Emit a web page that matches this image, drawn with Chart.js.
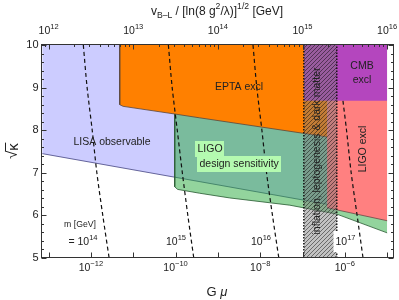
<!DOCTYPE html>
<html>
<head>
<meta charset="utf-8">
<script src="https://cdn.jsdelivr.net/npm/chart.js@4.4.0/dist/chart.umd.min.js"></script>
<style>
  html, body { margin: 0; padding: 0; background: #fff; }
  canvas { display: block; }
</style>
</head>
<body>
<canvas id="chart" width="399" height="300"></canvas>
<script>
// x = log10(G mu), y = sqrt(kappa)
const X_MIN = -13.18, X_MAX = -4.85;
const Y_MIN = 5, Y_MAX = 10.035;

// LISA observable: lower boundary
const lisaX = [-13.15, -5.0];
const lisaY = [7.45, 6.01];
// EPTA excl: left edge + lower boundary
const eptaX = [-11.32, -11.32, -11.24, -10.02, -9.43, -7.0, -6.42];
const eptaY = [10, 8.6, 8.56, 8.38, 8.29, 7.93, 7.84];
// LIGO design sensitivity: left edge + lower boundary
const ligoX = [-10.02, -10.02, -9.95, -9.43, -8.72, -7.3, -6.19, -5.0];
const ligoY = [10, 6.67, 6.61, 6.52, 6.41, 6.24, 6.03, 5.59];
// LIGO excl: lower boundary
const ligoExX = [-6.42, -6.19, -5.0];
const ligoExY = [6.18, 6.13, 5.875];
// CMB excl: lower boundary
const cmbX = [-6.97, -5.0];
const cmbY = [8.69, 8.69];
// inflation, leptogenesis & dark matter band
const bandX = [-6.97, -6.97, -6.19, -6.19];
const bandY = [10, 5, 5, 10];

// dashed lines of constant m [GeV]
const mExps = ['14', '15', '16', '17'];
const mLineY = [10, 9, 8, 7, 6, 5];
const mLineX = [
  [-12.18, -12.09, -11.97, -11.86, -11.72, -11.57],
  [-10.17, -10.08, -9.96, -9.84, -9.71, -9.57],
  [-8.17, -8.08, -7.96, -7.85, -7.71, -7.56],
  [-6.17, -6.08, -5.96, -5.85, -5.71, -5.57]
];

// axis ticks
const gmuTickExps = [-13, -12, -11, -10, -9, -8, -7, -6, -5];
const gmuLabelExps = [-12, -10, -8, -6];
const vTickExps = [12, 13, 14, 15, 16];
const yTicks = [5, 6, 7, 8, 9, 10];

const FONT = '"Liberation Sans", Arial, Helvetica, sans-serif';

function pts(xs, ys) {
  return xs.map((x, i) => ({ x: x, y: ys[i] }));
}

function hatchPattern() {
  const c = document.createElement('canvas');
  c.width = 4; c.height = 4;
  const g = c.getContext('2d');
  g.fillStyle = 'rgba(120,120,120,0.45)';
  g.fillRect(0, 0, 4, 4);
  g.strokeStyle = 'rgba(0,0,0,0.5)';
  g.lineWidth = 0.9;
  g.beginPath();
  g.moveTo(0, 4); g.lineTo(4, 0);
  g.moveTo(-1, 1); g.lineTo(1, -1);
  g.moveTo(3, 5); g.lineTo(5, 3);
  g.stroke();
  return g.createPattern(c, 'repeat');
}

// text with super/subscripts: parts = [[text, kind]], kind 1 sup, -1 sub
function rich(ctx, parts, x, y, size, align) {
  const fnt = k => (k ? size * 0.72 : size) + 'px ' + FONT;
  let w = 0;
  parts.forEach(([t, k]) => { ctx.font = fnt(k); w += ctx.measureText(t).width; });
  let cx = align === 'center' ? x - w / 2 : (align === 'right' ? x - w : x);
  ctx.textAlign = 'left';
  ctx.textBaseline = 'middle';
  parts.forEach(([t, k]) => {
    ctx.font = fnt(k);
    const dy = k === 1 ? -size * 0.42 : (k === -1 ? size * 0.3 : 0);
    ctx.fillText(t, cx, y + dy);
    cx += ctx.measureText(t).width;
  });
  return w;
}

function label(ctx, text, x, y, size, rot) {
  ctx.save();
  ctx.translate(x, y);
  if (rot) ctx.rotate(rot);
  ctx.font = size + 'px ' + FONT;
  ctx.textAlign = 'center';
  ctx.textBaseline = 'middle';
  ctx.fillText(text, 0, 0);
  ctx.restore();
}

const decor = {
  id: 'decor',
  afterDraw(chart) {
    const { ctx, chartArea: a, scales } = chart;
    const xs = scales.x, ys = scales.y, xt = scales.xTop;
    const L = Math.round(a.left) + 0.5, R = Math.round(a.right) - 0.5;
    const T = Math.round(a.top) + 0.5, B = Math.round(a.bottom) - 0.5;
    ctx.save();

    // region labels
    ctx.fillStyle = '#222';
    label(ctx, 'LISA observable', 112, 142, 10.5);
    label(ctx, 'EPTA excl', 239, 87, 10.5);
    ctx.fillStyle = '#b4fab0';
    ctx.fillRect(195, 141, 29, 16);
    ctx.fillRect(197, 156, 84, 16);
    ctx.fillStyle = '#222';
    ctx.font = '10.5px ' + FONT;
    ctx.textAlign = 'left'; ctx.textBaseline = 'middle';
    ctx.fillText('LIGO', 197.5, 149.5);
    ctx.fillText('design sensitivity', 199.5, 164.5);
    label(ctx, 'CMB', 362, 66.5, 10.5);
    label(ctx, 'excl', 362, 80, 10.5);
    label(ctx, 'LIGO excl', 363.5, 149, 10.5, -Math.PI / 2);
    label(ctx, 'inflation, leptogenesis & dark matter', 317, 151, 10.5, -Math.PI / 2);

    // m labels
    label(ctx, 'm [GeV]', 80, 225, 8.7);
    rich(ctx, [['= 10', 0], [mExps[0], 1]], 83, 242, 10.5, 'center');
    rich(ctx, [['10', 0], [mExps[1], 1]], 176, 242, 10.5, 'center');
    rich(ctx, [['10', 0], [mExps[2], 1]], 261, 242, 10.5, 'center');
    ctx.fillStyle = '#fff';
    ctx.fillRect(333.5, 231, 24, 21);
    ctx.fillStyle = '#222';
    rich(ctx, [['10', 0], [mExps[3], 1]], 345.5, 242, 10.5, 'center');

    // frame
    ctx.strokeStyle = '#333';
    ctx.lineWidth = 1;
    ctx.strokeRect(L, T, R - L, B - T);

    // ticks
    ctx.beginPath();
    gmuTickExps.forEach(e => {
      const p = Math.round(xs.getPixelForValue(e)) + 0.5;
      ctx.moveTo(p, B); ctx.lineTo(p, B - 5);
    });
    for (let n = 11; n <= 16; n++) {
      for (let k = 1; k <= 9; k++) {
        const v = n + Math.log10(k);
        if (v < xt.min || v > xt.max) continue;
        const p = Math.round(xt.getPixelForValue(v)) + 0.5;
        ctx.moveTo(p, T); ctx.lineTo(p, T + (k === 1 ? 5 : 2.5));
      }
    }
    for (let i = 0; i <= 25; i++) {
      const v = 5 + i * 0.2;
      const p = Math.round(ys.getPixelForValue(v)) + 0.5;
      const len = i % 5 === 0 ? 5 : 2.5;
      ctx.moveTo(L, p); ctx.lineTo(L + len, p);
      ctx.moveTo(R, p); ctx.lineTo(R - len, p);
    }
    ctx.stroke();

    // tick labels
    ctx.fillStyle = '#222';
    gmuLabelExps.forEach(e => {
      rich(ctx, [['10', 0], [String(e).replace('-', '\u2212'), 1]], xs.getPixelForValue(e), 268, 10.5, 'center');
    });
    vTickExps.forEach(e => {
      rich(ctx, [['10', 0], [String(e), 1]], xt.getPixelForValue(e), 31, 10.5, 'center');
    });
    ctx.font = '11px ' + FONT;
    ctx.textAlign = 'right'; ctx.textBaseline = 'middle';
    yTicks.forEach(v => ctx.fillText(String(v), 38.5, ys.getPixelForValue(v)));

    // axis titles
    rich(ctx, [['v', 0], ['B\u2013L', -1], [' / [ln(8 g', 0], ['2', 1], ['/\u03bb)]', 0], ['1/2', 1], [' [GeV]', 0]], 217, 12, 12, 'center');
    ctx.font = '13px ' + FONT;
    ctx.textAlign = 'left'; ctx.textBaseline = 'middle';
    const gw = ctx.measureText('G ').width;
    ctx.font = 'italic 13px ' + FONT;
    const mw = ctx.measureText('\u03bc').width;
    ctx.font = '13px ' + FONT;
    ctx.fillText('G ', 217 - (gw + mw) / 2, 292);
    ctx.font = 'italic 13px ' + FONT;
    ctx.fillText('\u03bc', 217 - (gw + mw) / 2 + gw, 292);

    // sqrt(kappa)
    ctx.save();
    ctx.translate(13, 151);
    ctx.rotate(-Math.PI / 2);
    ctx.font = '15px ' + FONT;
    const sw = ctx.measureText('\u221a').width, kw = ctx.measureText('\u03ba').width;
    ctx.textAlign = 'left'; ctx.textBaseline = 'middle';
    ctx.fillText('\u221a', -(sw + kw) / 2, 0);
    ctx.fillText('\u03ba', -(sw + kw) / 2 + sw, 1);
    ctx.strokeStyle = '#222';
    ctx.lineWidth = 1;
    ctx.beginPath();
    ctx.moveTo(-(sw + kw) / 2 + sw - 0.5, -7.5);
    ctx.lineTo((sw + kw) / 2 + 0.5, -7.5);
    ctx.stroke();
    ctx.restore();

    ctx.restore();
  }
};

const region = (data, bg, border, order, extra) => Object.assign({
  data: data,
  backgroundColor: bg,
  borderColor: border || 'rgba(0,0,0,0)',
  borderWidth: border ? 1 : 0,
  fill: { value: 10 },
  pointRadius: 0,
  pointHoverRadius: 0,
  tension: 0,
  order: order
}, extra || {});

const datasets = [
  region(pts(bandX, bandY), hatchPattern(), '#111', 1, { borderDash: [1.5, 1.5], borderWidth: 1.4 }),
  region(pts(cmbX, cmbY), 'rgb(180,70,190)', null, 2),
  region(pts(ligoExX, ligoExY), 'rgb(255,128,128)', 'rgba(110,70,70,0.8)', 4),
  region(pts(eptaX, eptaY), 'rgb(255,128,0)', 'rgba(90,70,60,0.8)', 5),
  region(pts(ligoX, ligoY), 'rgba(40,170,60,0.5)', 'rgba(40,90,50,0.8)', 6),
  region(pts(lisaX, lisaY), 'rgb(204,204,255)', 'rgba(70,70,130,0.8)', 7)
];
mLineX.forEach(xsArr => {
  datasets.push({
    data: pts(xsArr, mLineY),
    borderColor: '#111',
    borderWidth: 1.2,
    borderDash: [4, 3],
    fill: false,
    pointRadius: 0,
    pointHoverRadius: 0,
    tension: 0.3,
    order: 3
  });
});

new Chart(document.getElementById('chart'), {
  type: 'line',
  data: { datasets: datasets },
  options: {
    responsive: false,
    animation: false,
    devicePixelRatio: 1,
    events: [],
    layout: { padding: { left: 41, right: 5.5, top: 43.5, bottom: 42 } },
    plugins: { legend: { display: false }, tooltip: { enabled: false } },
    scales: {
      x: { type: 'linear', min: X_MIN, max: X_MAX, display: false },
      xTop: { type: 'linear', axis: 'x', position: 'top', min: (X_MIN + 37) / 2, max: (X_MAX + 37) / 2, display: false },
      y: { type: 'linear', min: Y_MIN, max: Y_MAX, display: false }
    }
  },
  plugins: [decor]
});
</script>
</body>
</html>
